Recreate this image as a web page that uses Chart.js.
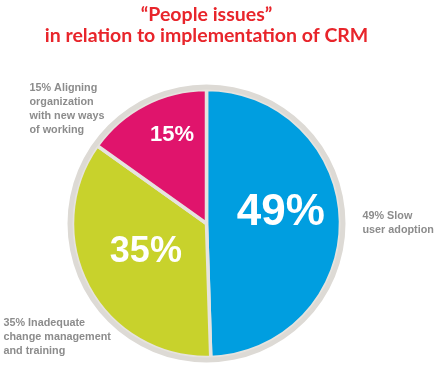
<!DOCTYPE html>
<html>
<head>
<meta charset="utf-8">
<script src="https://cdn.jsdelivr.net/npm/chart.js@4.4.0/dist/chart.umd.min.js"></script>
<style>
  html, body { margin: 0; padding: 0; background: #ffffff; }
  #wrap { width: 443px; height: 369px; }
</style>
</head>
<body>
<div id="wrap"><canvas id="crmPie" width="443" height="369"></canvas></div>
<script>
// chart data
const titleLines = ['\u201CPeople issues\u201D', 'in relation to implementation of CRM'];
const categories = ['Slow user adoption', 'Inadequate change management and training', 'Aligning organization with new ways of working'];
const shares = [49, 35, 15];
const sliceLabels = ['49%', '35%', '15%'];
const outerLabels = [
    ['49% Slow', 'user adoption'],
    ['35% Inadequate', 'change management', 'and training'],
    ['15% Aligning', 'organization', 'with new ways', 'of working']
];

const sliceColors = ['#009ee0', '#c8d22c', '#e0146c'];
const ringColor = '#dddad5';

// label styling: [size, radius fraction, angle shift (deg)]
const sliceLabelStyle = [
    [44, 0.56, -7],
    [36, 0.50, 3],
    [22, 0.71, 6]
];

const labelPlugin = {
    id: 'pieLabels',
    afterDatasetsDraw(chart) {
        const ctx = chart.ctx;
        const meta = chart.getDatasetMeta(1);
        const first = meta.data[0];
        const cx = first.x, cy = first.y;
        const R = first.outerRadius;

        ctx.save();
        ctx.fillStyle = '#ffffff';
        ctx.textAlign = 'center';
        ctx.textBaseline = 'middle';
        meta.data.forEach((arc, i) => {
            const st = sliceLabelStyle[i];
            const mid = (arc.startAngle + arc.endAngle) / 2 + st[2] * Math.PI / 180;
            const r = R * st[1];
            ctx.font = 'bold ' + st[0] + 'px "Liberation Sans", Arial, sans-serif';
            ctx.fillText(sliceLabels[i], cx + r * Math.cos(mid), cy + r * Math.sin(mid));
        });

        // side annotations
        ctx.fillStyle = '#8c8c8c';
        ctx.textAlign = 'left';
        ctx.font = 'bold 10.8px "Liberation Sans", Arial, sans-serif';
        const lh = 14;
        const spots = [
            [cx + R + 22, cy - 7],
            [cx - R - 69, cy + 100],
            [cx - R - 43, cy - 135]
        ];
        outerLabels.forEach((lines, i) => {
            lines.forEach((t, j) => {
                ctx.fillText(t, spots[i][0], spots[i][1] + j * lh);
            });
        });
        ctx.restore();
    }
};

new Chart(document.getElementById('crmPie'), {
    type: 'pie',
    data: {
        labels: categories,
        datasets: [
            {
                data: [1],
                backgroundColor: [ringColor],
                borderWidth: 0,
                hoverBorderWidth: 0,
                hoverOffset: 0,
                weight: 5
            },
            {
                data: shares,
                backgroundColor: sliceColors,
                borderColor: '#e6e3de',
                borderWidth: 3.5,
                hoverBorderWidth: 3.5,
                hoverOffset: 0,
                weight: 134
            }
        ]
    },
    options: {
        responsive: false,
        animation: false,
        events: [],
        // pie keeps its size from the height, the width sets the centre
        layout: {
            padding: { left: 0, right: 30, top: 0, bottom: 6.5 }
        },
        plugins: {
            legend: { display: false },
            tooltip: { enabled: false },
            title: {
                display: true,
                text: titleLines,
                color: '#e8252b',
                font: { family: 'Lato, "Open Sans", sans-serif', size: 19.5, weight: 'bold', lineHeight: 1.1 },
                padding: { top: 4, bottom: 37.6 }
            }
        }
    },
    plugins: [labelPlugin]
});
</script>
</body>
</html>
